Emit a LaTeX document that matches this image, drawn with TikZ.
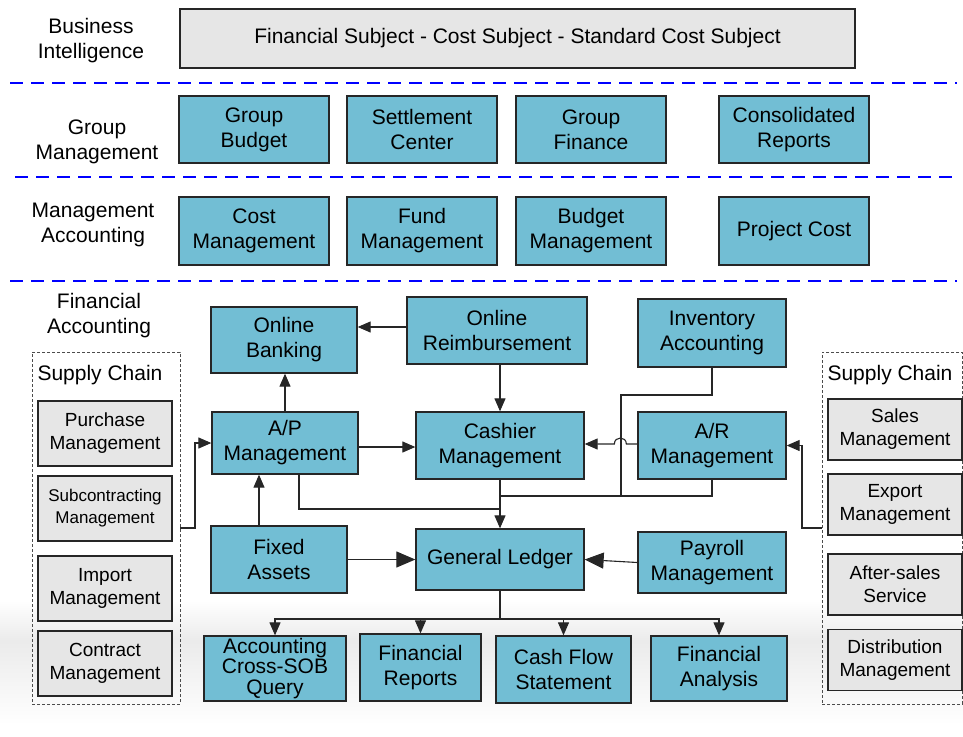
\documentclass[tikz,border=0pt]{standalone}
\usepackage{fontspec}
\setmainfont{Liberation Sans}
\usetikzlibrary{arrows.meta}

\definecolor{faBlue}{RGB}{114,190,212}
\definecolor{scGray}{RGB}{230,230,230}
\newcommand{\fsz}[2]{\fontsize{#1}{#2}\selectfont}

\tikzset{
  module/.style={draw=black!85, line width=1.3pt, fill=faBlue, align=center,
    inner sep=0pt, font=\fsz{21}{25}},
  scmodule/.style={module, fill=scGray, font=\fsz{19}{23}},
  layer/.style={align=center, inner sep=0pt, font=\fsz{21}{25}},
  wh/.style 2 args={minimum width=#1pt, minimum height=#2pt},
  layersep/.style={draw=blue, line width=1.6pt, dash pattern=on 13pt off 8pt},
  scgroup/.style={draw=black!70, line width=0.8pt, dash pattern=on 3pt off 2pt,
    inner sep=0pt},
  link/.style={draw=black!85, line width=1.1pt},
  arrow/.style={link, -{Triangle[length=13pt,width=11pt]}},
  bigarrow/.style={link, -{Triangle[length=19pt,width=16pt]}}
}

\begin{document}
\begin{tikzpicture}[x=1pt, y=-1pt]
  \useasboundingbox (0,0) rectangle (963,736);
  % floor shading
  \shade[top color=white, bottom color=black!8, draw=none] (0,600) rectangle (963,641);
  \shade[top color=black!8, bottom color=white, draw=none] (0,640) rectangle (963,725);

  % Layer: Business Intelligence
  \node[layer] (bi) at (91,41) {Business\\Intelligence};
  \node[module, fill=scGray, wh={675}{59}] (bisub) at (517.5,38.5)
    {Financial Subject - Cost Subject - Standard Cost Subject};
  \draw[layersep] (10,83) -- (957,83);

  % Layer: Group Management
  \node[layer] (gm) at (97,142) {Group\\Management};
  \node[module, wh={150}{67}] (gb) at (254,129.5) {Group\\Budget};
  \node[module, wh={150}{67}] (sc) at (422,129.5) {Settlement\\Center};
  \node[module, wh={150}{67}] (gf) at (591,129.5) {Group\\Finance};
  \node[module, wh={150}{67}] (cr) at (794,129.5) {Consolidated\\Reports};
  \draw[layersep] (15,177) -- (957,177);

  % Layer: Management Accounting
  \node[layer] (ma) at (93,225) {Management\\Accounting};
  \node[module, wh={150}{68}] (cost) at (254,231) {Cost\\Management};
  \node[module, wh={150}{68}] (fund) at (422,231) {Fund\\Management};
  \node[module, wh={150}{68}] (bud) at (591,231) {Budget\\Management};
  \node[module, wh={150}{68}] (pc) at (794,231) {Project Cost};
  \draw[layersep] (10,281) -- (957,281);

  % Layer: Financial Accounting
  \node[layer] (fa) at (99,316) {Financial\\Accounting};
  \node[module, wh={146}{66}] (ob) at (284,340) {Online\\Banking};
  \node[module, wh={180}{67}] (or) at (497,330.5) {Online\\Reimbursement};
  \node[module, wh={148}{68}] (ia) at (712,333) {Inventory\\Accounting};
  \node[module, wh={146}{62}] (ap) at (285,443) {A/P\\Management};
  \node[module, wh={168}{67}] (cm) at (500,445.5) {Cashier\\Management};
  \node[module, wh={148}{67}] (ar) at (712,445.5) {A/R\\Management};
  \node[module, wh={136}{67}] (fx) at (279,559.5) {Fixed\\Assets};
  \node[module, wh={168}{61}] (gl) at (500,559.5) {General Ledger};
  \node[module, wh={148}{61}] (pm) at (712,562.5) {Payroll\\Management};

  % Reports
  \node[module, wh={142}{65}, font=\fsz{21}{20.5}] (acq) at (275,668.5) {Accounting\\Cross-SOB\\Query};
  \node[module, wh={121}{67}] (frp) at (420.5,667.5) {Financial\\Reports};
  \node[module, wh={135}{67}] (cfs) at (563.5,669.5) {Cash Flow\\Statement};
  \node[module, wh={136}{65}] (fan) at (719,668.5) {Financial\\Analysis};

  % Supply Chain (left)
  \node[scgroup, wh={148}{352}] (scl) at (106,528) {};
  \node[layer] (scltitle) at (100,375) {Supply Chain};
  \node[scmodule, wh={134}{65}] (pur) at (105,433.5) {Purchase\\Management};
  \node[scmodule, wh={134}{65}, font=\fsz{17}{22}] (sub) at (105,508.5) {Subcontracting\\Management};
  \node[scmodule, wh={134}{65}] (imp) at (105,588.5) {Import\\Management};
  \node[scmodule, wh={134}{65}] (con) at (105,663.5) {Contract\\Management};

  % Supply Chain (right)
  \node[scgroup, wh={140}{352}] (scr) at (892,528) {};
  \node[layer] (scrtitle) at (890,375) {Supply Chain};
  \node[scmodule, wh={134}{61}] (sal) at (895,429.5) {Sales\\Management};
  \node[scmodule, wh={134}{61}] (exp) at (895,504.5) {Export\\Management};
  \node[scmodule, wh={134}{61}] (aft) at (895,584.5) {After-sales\\Service};
  \node[scmodule, wh={134}{61}] (dis) at (895,660) {Distribution\\Management};

  % bend points
  \coordinate (jmp) at (621,395);
  \coordinate (bus) at (500,496);
  \coordinate (apbus) at (500,509);
  \coordinate (rbus) at (500,619);
  \coordinate (lsc) at (195,528);
  \coordinate (rsc) at (802,528);

  % Connectors
  \draw[arrow] ([yshift=3.5pt]or.west) -- ([yshift=3.5pt]or.west -| ob.east);
  \draw[arrow] (cm.north |- or.south) -- (cm.north);
  \draw[arrow] (ap.north) -- (ap.north |- ob.south);
  \draw[arrow] ([yshift=-4pt]ap.east) -- ([yshift=-4pt]ap.east -| cm.west);
  \draw[arrow] ([yshift=1.5pt]ar.west) -- ++(-11,0)
    .. controls +(0,-8) and +(0,-8) .. ++(-12,0)
    -- ([yshift=1.5pt]ar.west -| cm.east);
  \draw[link] (ia.south) |- (jmp) |- (bus);
  \draw[link] (ar.south) |- (bus);
  \draw[link] ([xshift=14pt]ap.south) |- (apbus);
  \draw[arrow] (cm.south) -- (gl.north);
  \draw[arrow] ([xshift=-20pt]fx.north) -- ([xshift=-20pt]fx.north |- ap.south);
  \draw[bigarrow] (fx.east) -- (fx.east -| gl.west);
  \draw[bigarrow] (pm.west) -- (gl.east);
  \draw[link] (gl.south) -- (rbus);
  \foreach \n in {acq,frp,cfs,fan}
    \draw[arrow] (rbus) -| (\n.north);
  \draw[arrow] (scl.east |- lsc) -- (lsc) |- (ap.west);
  \draw[arrow] (scr.west |- rsc) -- (rsc) |- (ar.east);
\end{tikzpicture}
\end{document}
